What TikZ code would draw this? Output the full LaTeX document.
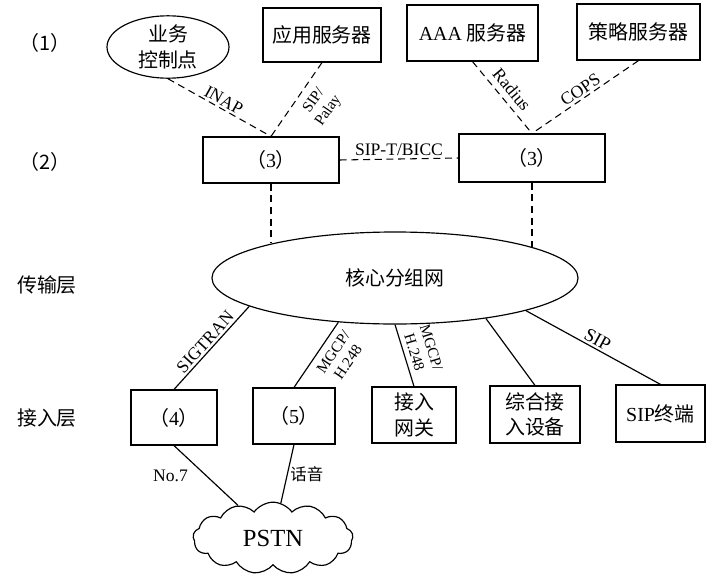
\documentclass[tikz,border=0pt]{standalone}
\usepackage{fontspec}
\setmainfont{Liberation Serif}
\newfontfamily\cjk{Noto Sans CJK SC}
\usetikzlibrary{shapes.geometric,shapes.symbols}
\newcommand{\pnum}[1]{{\cjk （}{\rmfamily #1}{\cjk ）}}
\tikzset{
  box/.style={draw, line width=1pt, inner sep=0pt, align=center, font=\cjk\fontsize{17}{22}\selectfont},
  layer/.style={inner sep=0pt, font=\cjk\fontsize{17}{20}\selectfont},
  lbl/.style={inner sep=2pt, font=\fontsize{15}{16}\selectfont},
  lbltwo/.style={inner sep=2pt, align=center, font=\fontsize{13}{15}\selectfont},
  link/.style={line width=1pt},
  ctrl/.style={line width=0.9pt, dash pattern=on 6pt off 4pt},
}
\begin{document}
\begin{tikzpicture}[x=0.03cm,y=-0.03cm]
\useasboundingbox (0,0) rectangle (725,582);

\node[layer] (lay1) at (45,43) {（1）};
\node[layer] (lay2) at (45,162) {（2）};
\node[layer] (laytr) at (47,285) {传输层};
\node[layer] (layac) at (47,418) {接入层};

\node[box, ellipse, minimum width=3.66cm, minimum height=1.65cm] (scp) at (168,47) {业务\\控制点};
\node[box, minimum width=3.54cm, minimum height=1.62cm] (app) at (322,35) {应用服务器};
\node[box, minimum width=3.93cm, minimum height=1.68cm] (aaa) at (472.5,33) {{\rmfamily AAA} 服务器};
\node[box, minimum width=3.69cm, minimum height=1.68cm] (policy) at (638.5,32) {策略服务器};

\node[box, minimum width=4.08cm, minimum height=1.38cm] (sw1) at (271,160) {\pnum{3}};
\node[box, minimum width=4.38cm, minimum height=1.44cm] (sw2) at (532,158) {\pnum{3}};

\node[box, ellipse, minimum width=10.98cm, minimum height=2.76cm] (core) at (395,278) {核心分组网};

\node[box, minimum width=2.58cm, minimum height=1.65cm] (g4) at (174,417.5) {\pnum{4}};
\node[box, minimum width=2.46cm, minimum height=1.68cm] (g5) at (294,416) {\pnum{5}};
\node[box, minimum width=2.52cm, minimum height=1.68cm] (agw) at (414,415) {接入\\网关};
\node[box, minimum width=2.7cm, minimum height=1.71cm] (iad) at (535,414.5) {综合接\\入设备};
\node[box, minimum width=2.67cm, minimum height=1.71cm] (sipt) at (660.5,413.5) {{\rmfamily SIP}终端};

\node[box, cloud, cloud puffs=13, cloud puff arc=110, aspect=2.2, minimum width=4.8cm, minimum height=2.15cm, font=\fontsize{21}{24}\selectfont] (pstn) at (273,538) {PSTN};

\draw[ctrl] (scp.south) -- node[lbl, midway, above, sloped] {INAP} (sw1.north);
\draw[ctrl] (app.south) -- node[lbltwo, pos=0.4, below=5pt, sloped] {SIP/\\Palay} (sw1.north);
\draw[ctrl] (aaa.south) -- node[lbl, midway, above=3pt, sloped] {Radius} (sw2.north);
\draw[ctrl] (policy.south) -- node[lbl, midway, above, sloped] {COPS} (sw2.north);
\draw[ctrl] (sw1.east) -- node[lbl, above] {SIP-T/BICC} (sw2.west);
\draw[ctrl] (sw1.south) -- (sw1.south |- core.164.75);
\draw[ctrl] (sw2.south) -- (sw2.south |- core.12.5);

\draw[link] (g4.north) -- node[lbl, midway, above, sloped] {SIGTRAN} (core.191);
\draw[link] (g5.north) -- node[lbltwo, pos=0.65, below=4pt, sloped] {MGCP/\\H.248} (core.218);
\draw[link] (core.south) -- node[lbltwo, midway, above=2pt, sloped] {MGCP/\\H.248} (agw.north);
\draw[link] (core.336) -- (iad.north);
\draw[link] (core.346) -- node[lbl, midway, above, sloped, font=\fontsize{16}{17}\selectfont] {SIP} (sipt.north);

\draw[link] (g4.south) -- node[lbl, midway, left=13pt] {No.7} (pstn);
\draw[link] (g5.south) -- node[lbl, midway, right, font=\cjk\fontsize{14}{15}\selectfont] {话音} (pstn);
\end{tikzpicture}
\end{document}
